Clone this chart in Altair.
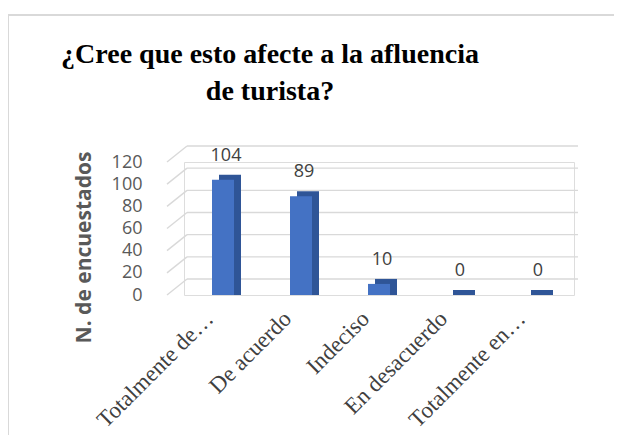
import altair as alt
import pandas as pd

categories = ["Totalmente de…", "De acuerdo", "Indeciso", "En desacuerdo", "Totalmente en…"]
values = [104, 89, 10, 0, 0]
ticks = [0, 20, 40, 60, 80, 100, 120]
title_line1 = "¿Cree que esto afecte a la afluencia"
title_line2 = "de turista?"
y_title = "N. de encuestados"

df = pd.DataFrame({"cat": categories, "val": values})
grid_df = pd.DataFrame({"val": ticks})
one = pd.DataFrame({"a": [0]})

yscale = alt.Scale(domain=[0, 120], nice=False)
xscale = alt.Scale(domain=categories)

x_axis = alt.Axis(title=None, labelAngle=-45, labelFont="Liberation Serif",
                  labelFontSize=23, labelColor="#404040", domain=False,
                  ticks=False, labelPadding=12, labelOffset=-21, labelLimit=250)
y_axis = alt.Axis(values=ticks, grid=False, domain=False, ticks=False, tickSize=0,
                  labelPadding=42, labelFont="Open Sans", labelFontSize=18,
                  labelColor="#595959", title=y_title, titleFont="Open Sans",
                  titleFontSize=21, titleFontWeight="bold", titleColor="#595959",
                  titleX=-90, titleY=85, titleAngle=-90, titleAlign="center",
                  titleBaseline="bottom")

X = alt.X("cat:N", scale=xscale, sort=categories, axis=x_axis)
Y = alt.Y("val:Q", scale=yscale, axis=y_axis)

back_grid = alt.Chart(grid_df).mark_rule(yOffset=-16, color="#d9d9d9", strokeWidth=1.4).encode(
    y=Y, x=alt.value(3), x2=alt.value(394))

diag = alt.Chart(grid_df).mark_rule(y2Offset=-16, color="#d9d9d9", strokeWidth=1.4).encode(
    y=Y, y2="val:Q", x=alt.value(-17), x2=alt.value(3))

back_bar = alt.Chart(df).mark_bar(size=22, xOffset=7, yOffset=-5, y2Offset=0,
                                  color="#2F5597").encode(
    x=X, y=Y, y2=alt.datum(0))

front_bar = alt.Chart(df).mark_bar(size=22, color="#4472C4").encode(
    x=X, y=Y, y2=alt.datum(0))

labels = alt.Chart(df).mark_text(dy=-24, xOffset=3, baseline="middle", font="Open Sans",
                                 fontSize=18, color="#404040").encode(
    x=X, y=Y, text="val:Q")

title1 = alt.Chart(one).mark_text(font="Liberation Serif", fontSize=28, fontWeight="bold",
                                  color="black", align="center", baseline="alphabetic").encode(
    x=alt.value(86), y=alt.value(-99), text=alt.value(title_line1))
title2 = alt.Chart(one).mark_text(font="Liberation Serif", fontSize=28, fontWeight="bold",
                                  color="black", align="center", baseline="alphabetic").encode(
    x=alt.value(86), y=alt.value(-62), text=alt.value(title_line2))

border_top = alt.Chart(one).mark_rule(color="#d9d9d9", strokeWidth=2).encode(
    x=alt.value(-176), x2=alt.value(460), y=alt.value(-147))
border_left = alt.Chart(one).mark_rule(color="#d9d9d9", strokeWidth=2).encode(
    x=alt.value(-176), y=alt.value(-147), y2=alt.value(320))

chart = alt.layer(back_grid, diag, border_top, border_left, back_bar, front_bar, labels,
                  title1, title2).properties(
    width=390, height=133,
    autosize=alt.AutoSizeParams(type="none"),
    padding={"left": 176, "top": 154, "right": 40, "bottom": 140},
).configure_view(stroke=None).configure(background="white")

chart.save("out.html", embed_options={"renderer": "svg", "actions": False})
